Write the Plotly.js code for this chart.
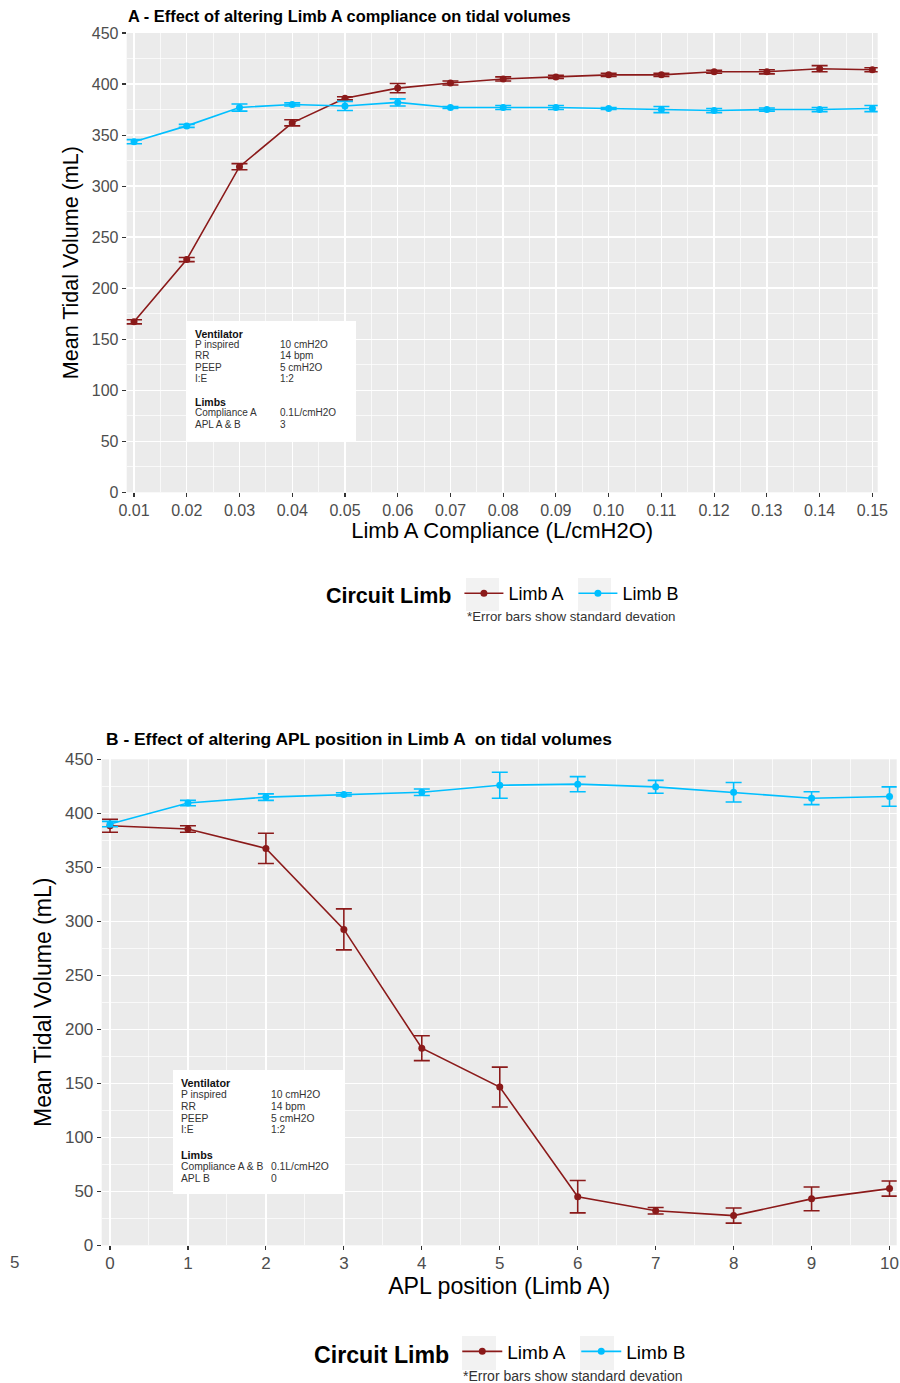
<!DOCTYPE html>
<html>
<head>
<meta charset="utf-8">
<script src="https://cdn.plot.ly/plotly-3.0.1.min.js"></script>
<style>html,body{margin:0;padding:0;background:#fff;}#chart{width:900px;height:1383px;}</style>
</head>
<body>
<div id="chart"></div>
<script>
// ---------- Data ----------
const compliance = [0.01,0.02,0.03,0.04,0.05,0.06,0.07,0.08,0.09,0.10,0.11,0.12,0.13,0.14,0.15];
const complianceLabels = ["0.01","0.02","0.03","0.04","0.05","0.06","0.07","0.08","0.09","0.10","0.11","0.12","0.13","0.14","0.15"];
const panelA_limbA = [167,228,319,362,386,396,401,405,407,409,409,412,412,415,414];
const panelA_limbA_sd = [2,2,3,3,1.5,4.5,2,2,1.5,1.5,1.5,1.5,2,3,2];
const panelA_limbB = [343.5,359,377,380,378.5,382,377,377,377,376,375,374,375,375,376];
const panelA_limbB_sd = [2,1.5,3.5,1.5,4.5,3.5,1,2,2,1,3,2,1.5,2,3];

const aplPosition = [0,1,2,3,4,5,6,7,8,9,10];
const panelB_limbA = [388.5,385.5,367.5,292.5,182.5,146.5,45,32,27.5,43,52.5];
const panelB_limbA_sd = [6,3,14,19,11.5,18.5,15,3,7,11,7];
const panelB_limbB = [390,409.5,415,417.5,419.5,426,427,424.5,419.5,414,415.5];
const panelB_limbB_sd = [2.5,2.5,3,1.5,3,12,7,6,9,6,9];

const yTicks = [0,50,100,150,200,250,300,350,400,450];
const seriesNames = ["Limb A","Limb B"];
const seriesColors = ["#8B1A1A","#00BFFF"];

const insetA = {
  vent: [["P inspired","10 cmH2O"],["RR","14 bpm"],["PEEP","5 cmH2O"],["I:E","1:2"]],
  limbs: [["Compliance A","0.1L/cmH2O"],["APL A & B","3"]]
};
const insetB = {
  vent: [["P inspired","10 cmH2O"],["RR","14 bpm"],["PEEP","5 cmH2O"],["I:E","1:2"]],
  limbs: [["Compliance A & B","0.1L/cmH2O"],["APL B","0"]]
};

// ---------- Helpers ----------
const W = 900, H = 1383;
const px = x => x / W;
const py = y => 1 - y / H;
const FONT = "Liberation Sans, Arial, Helvetica, sans-serif";

function trace(x, y, sd, i, xa, ya, legend) {
  return {
    x: x, y: y, type: "scatter", mode: "lines+markers",
    name: seriesNames[i], xaxis: xa, yaxis: ya, legend: legend, showlegend: true,
    line: {color: seriesColors[i], width: 1.6},
    marker: {color: seriesColors[i], size: 7},
    error_y: {type: "data", array: sd, visible: true, color: seriesColors[i], thickness: 1.6, width: 8}
  };
}

const data = [
  trace(compliance, panelA_limbA, panelA_limbA_sd, 0, "x", "y", "legend"),
  trace(compliance, panelA_limbB, panelA_limbB_sd, 1, "x", "y", "legend"),
  trace(aplPosition, panelB_limbA, panelB_limbA_sd, 0, "x2", "y2", "legend2"),
  trace(aplPosition, panelB_limbB, panelB_limbB_sd, 1, "x2", "y2", "legend2")
];

const axisCommon = {
  showline: false, zeroline: false, ticks: "outside", ticklen: 4, tickwidth: 1.1, tickcolor: "#333333",
  showgrid: true, gridcolor: "#FFFFFF", gridwidth: 1.4,
  tickfont: {family: FONT, size: 16, color: "#4D4D4D"},
  automargin: false, fixedrange: true
};

function annText(x, y, text, opts) {
  return Object.assign({
    xref: "paper", yref: "paper", x: px(x), y: py(y), text: text, showarrow: false,
    xanchor: "left", yanchor: "middle", font: {family: FONT, size: 10, color: "#333333"}
  }, opts || {});
}

function insetAnnotations(inset, x0, x1, yStart, step, gap, fs) {
  const out = [];
  const f = {family: FONT, size: fs, color: "#333333"};
  const fb = {family: FONT, size: fs + 0.5, color: "#111"};
  let y = yStart;
  out.push(annText(x0, y, "<b>Ventilator</b>", {font: fb}));
  inset.vent.forEach(r => { y += step; out.push(annText(x0, y, r[0], {font: f})); out.push(annText(x1, y, r[1], {font: f})); });
  y += gap;
  out.push(annText(x0, y, "<b>Limbs</b>", {font: fb}));
  inset.limbs.forEach(r => { y += step; out.push(annText(x0, y, r[0], {font: f})); out.push(annText(x1, y, r[1], {font: f})); });
  return out;
}

const annotations = [
  annText(126, 16, "<b>A - Effect of altering Limb A compliance on tidal volumes</b>", {font: {family: FONT, size: 16.4, color: "#000"}}),
  annText(104, 739, "<b>B - Effect of altering APL position in Limb A  on tidal volumes</b>", {font: {family: FONT, size: 17.4, color: "#000"}}),
  annText(571, 616, "*Error bars show standard devation", {xanchor: "center", font: {family: FONT, size: 13.3, color: "#333"}}),
  annText(572.5, 1376, "*Error bars show standard devation", {xanchor: "center", font: {family: FONT, size: 14, color: "#333"}}),
  annText(21, 1262, "5", {xanchor: "right", font: {family: FONT, size: 17, color: "#4D4D4D"}})
].concat(
  insetAnnotations(insetA, 193, 278, 333.5, 11.2, 23.4, 10),
  insetAnnotations(insetB, 179, 269, 1083, 11.7, 25, 10.3)
);

const shapes = [
  {type: "rect", xref: "paper", yref: "paper", x0: px(187), x1: px(356), y0: py(321), y1: py(442), fillcolor: "#FFFFFF", line: {width: 0}, layer: "above"},
  {type: "rect", xref: "paper", yref: "paper", x0: px(173), x1: px(343), y0: py(1070), y1: py(1194), fillcolor: "#FFFFFF", line: {width: 0}, layer: "above"},
  // legend key backgrounds
  {type: "rect", xref: "paper", yref: "paper", x0: px(466), x1: px(499), y0: py(578), y1: py(611), fillcolor: "#F2F2F2", line: {width: 0}, layer: "above"},
  {type: "rect", xref: "paper", yref: "paper", x0: px(578), x1: px(611), y0: py(578), y1: py(611), fillcolor: "#F2F2F2", line: {width: 0}, layer: "above"},
  {type: "rect", xref: "paper", yref: "paper", x0: px(462), x1: px(496), y0: py(1336), y1: py(1370), fillcolor: "#F2F2F2", line: {width: 0}, layer: "above"},
  {type: "rect", xref: "paper", yref: "paper", x0: px(580), x1: px(614), y0: py(1336), y1: py(1370), fillcolor: "#F2F2F2", line: {width: 0}, layer: "above"}
];

const legendA = {
  orientation: "h", xref: "paper", yref: "paper", xanchor: "left", yanchor: "middle",
  bgcolor: "rgba(0,0,0,0)", borderwidth: 0,
  font: {family: FONT, size: 18, color: "#000"},
  itemwidth: 39, entrywidth: 60, entrywidthmode: "pixels",
  title: {text: "<b>Circuit Limb</b>", side: "left", font: {family: FONT, size: 21.5, color: "#000"}},
  itemclick: false, itemdoubleclick: false,
  x: px(324), y: py(594)
};
const legendB = Object.assign({}, legendA, {
  font: {family: FONT, size: 19, color: "#000"},
  itemwidth: 40, entrywidth: 64,
  title: {text: "<b>Circuit Limb</b>", side: "left", font: {family: FONT, size: 23.2, color: "#000"}},
  x: px(312), y: py(1353)
});

const layout = {
  width: W, height: H,
  margin: {l: 0, r: 0, t: 0, b: 0},
  paper_bgcolor: "#FFFFFF", plot_bgcolor: "#EBEBEB",
  font: {family: FONT},
  showlegend: true,
  legend: legendA,
  legend2: legendB,
  xaxis: Object.assign({}, axisCommon, {
    domain: [px(126.7), px(877.7)], anchor: "y",
    range: [0.008616, 0.15101], tickmode: "array", tickvals: compliance, ticktext: complianceLabels,
    ticklabelstandoff: -1,
    minor: {dtick: 0.01, tick0: 0.005, showgrid: true, gridcolor: "#FFFFFF", gridwidth: 0.7, ticks: ""},
    title: {text: "Limb A Compliance (L/cmH2O)", font: {family: FONT, size: 22, color: "#000"}, standoff: 5}
  }),
  yaxis: Object.assign({}, axisCommon, {
    domain: [py(492.3), py(33)], anchor: "x",
    range: [0, 450], tickmode: "array", tickvals: yTicks,
    minor: {dtick: 50, tick0: 25, showgrid: true, gridcolor: "#FFFFFF", gridwidth: 0.7, ticks: ""},
    title: {text: "Mean Tidal Volume (mL)", font: {family: FONT, size: 21.5, color: "#000"}, standoff: 7}
  }),
  xaxis2: Object.assign({}, axisCommon, {
    domain: [px(101.7), px(896.7)], anchor: "y2",
    range: [-0.1065, 10.092], tickmode: "array", tickvals: aplPosition,
    ticklabelstandoff: -2,
    tickfont: {family: FONT, size: 17, color: "#4D4D4D"},
    minor: {dtick: 1, tick0: 0.5, showgrid: true, gridcolor: "#FFFFFF", gridwidth: 0.7, ticks: ""},
    title: {text: "APL position (Limb A)", font: {family: FONT, size: 23.2, color: "#000"}, standoff: 6}
  }),
  yaxis2: Object.assign({}, axisCommon, {
    domain: [py(1245.3), py(759.3)], anchor: "x2",
    range: [0, 450], tickmode: "array", tickvals: yTicks,
    tickfont: {family: FONT, size: 17, color: "#4D4D4D"},
    minor: {dtick: 50, tick0: 25, showgrid: true, gridcolor: "#FFFFFF", gridwidth: 0.7, ticks: ""},
    title: {text: "Mean Tidal Volume (mL)", font: {family: FONT, size: 23, color: "#000"}, standoff: 6}
  }),
  annotations: annotations,
  shapes: shapes
};

Plotly.newPlot("chart", data, layout, {staticPlot: true, displayModeBar: false});
</script>
</body>
</html>
